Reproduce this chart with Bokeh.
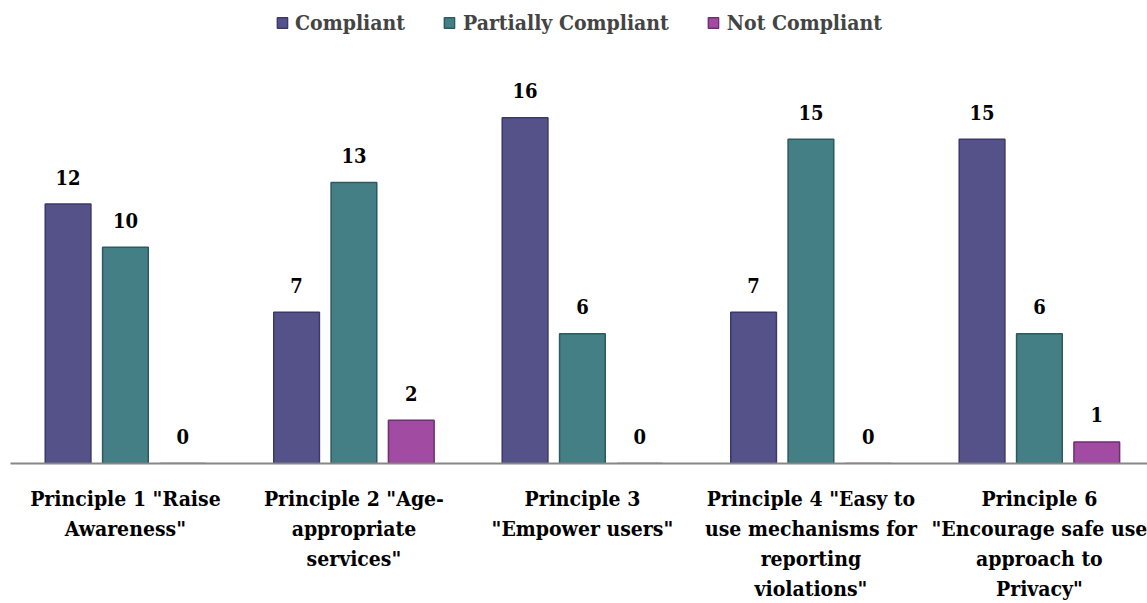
from bokeh.plotting import figure
from bokeh.models import ColumnDataSource, Legend, LegendItem, FixedTicker, Range1d
from bokeh.embed import file_html
from bokeh.resources import INLINE
from bokeh.core.properties import value

# ---- data ----
categories = [
    'Principle 1 "Raise\nAwareness"',
    'Principle 2 "Age-\nappropriate\nservices"',
    'Principle 3\n"Empower users"',
    'Principle 4 "Easy to\nuse mechanisms for\nreporting\nviolations"',
    'Principle 6\n"Encourage safe use\napproach to\nPrivacy"',
]
series_names = ["Compliant", "Partially Compliant", "Not Compliant"]
compliant = [12, 7, 16, 7, 15]
partially_compliant = [10, 13, 6, 15, 6]
not_compliant = [0, 2, 0, 0, 1]

# ---- style ----
fills = ["#55528A", "#437F85", "#A24BA3"]
borders = ["#3B396A", "#2C5A5E", "#6E2E72"]
offsets = [-0.251, 0.0, 0.251]
bar_w = 0.2
FONT = "DejaVu Serif Condensed"

xs = list(range(len(categories)))

p = figure(width=1147, height=603, output_backend="svg", toolbar_location=None,
           x_range=Range1d(-0.503, 4.473), y_range=Range1d(0, 21.05),
           min_border_left=10, min_border_right=0, min_border_top=8, min_border_bottom=140)
p.outline_line_color = None
p.grid.visible = False
p.yaxis.visible = False

series = [compliant, partially_compliant, not_compliant]
items = []
for i, (name, vals) in enumerate(zip(series_names, series)):
    src = ColumnDataSource(dict(x=[x + offsets[i] for x in xs], top=vals,
                                lbl=[str(v) for v in vals]))
    r = p.vbar(x="x", top="top", bottom=0, width=bar_w, source=src,
               fill_color=fills[i], line_color=borders[i], line_width=1.5)
    p.text(x="x", y="top", text="lbl", source=src, text_align="center",
           text_baseline="alphabetic", y_offset=-27,
           text_font=value(FONT), text_font_style="bold", text_font_size="20px",
           text_color="black")
    items.append(LegendItem(label=name, renderers=[r]))

legend = Legend(items=items, orientation="horizontal", location="top_center",
                glyph_width=13, glyph_height=13, label_standoff=7, spacing=38,
                padding=0, margin=2, border_line_color=None, background_fill_alpha=0,
                label_text_font=FONT, label_text_font_style="bold",
                label_text_font_size="21px", label_height=24)
p.add_layout(legend)

ax = p.xaxis[0]
ax.ticker = FixedTicker(ticks=xs)
ax.major_label_overrides = {x: c for x, c in zip(xs, categories)}
ax.axis_line_color = "#878787"
ax.axis_line_width = 2
ax.major_tick_line_color = None
ax.minor_tick_line_color = None
ax.major_tick_out = 0
ax.major_tick_in = 0
ax.major_label_standoff = 22
ax.major_label_text_font = FONT
ax.major_label_text_font_style = "bold"
ax.major_label_text_font_size = "21px"
ax.major_label_text_color = "black"
ax.major_label_text_line_height = 1.2

open("out.html", "w").write(file_html(p, INLINE))
